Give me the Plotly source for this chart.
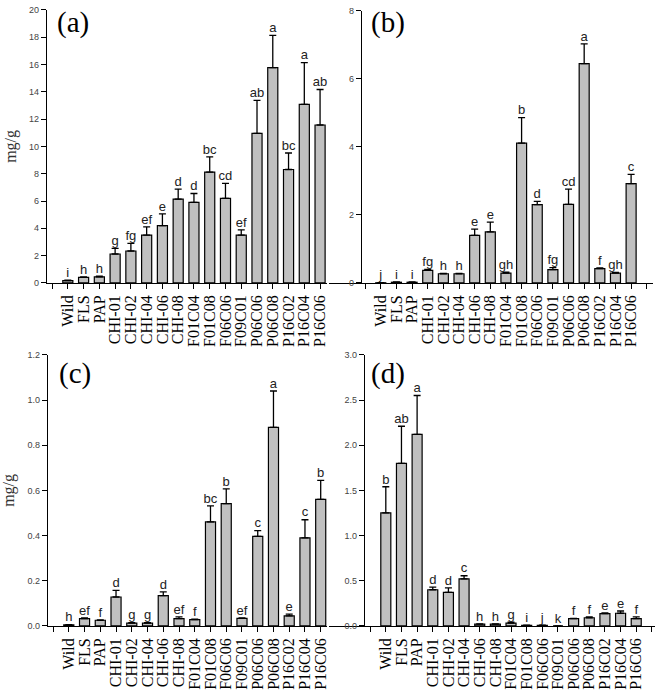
import plotly.graph_objects as go

lines = ['Wild', 'FLS', 'PAP', 'CHI-01', 'CHI-02', 'CHI-04', 'CHI-06', 'CHI-08',
         'F01C04', 'F01C08', 'F06C06', 'F09C01', 'P06C06', 'P06C08', 'P16C02', 'P16C04', 'P16C06']

# (a)
vals_a = [0.17, 0.40, 0.45, 2.12, 2.34, 3.50, 4.20, 6.14, 5.90, 8.12, 6.19, 3.50, 10.96, 15.78, 8.31, 13.08, 11.57]
err_a = [0.03, 0.05, 0.05, 0.41, 0.56, 0.60, 0.86, 0.73, 0.65, 1.11, 1.11, 0.38, 2.41, 2.36, 1.21, 3.06, 2.60]
let_a = ['i', 'h', 'h', 'g', 'fg', 'ef', 'e', 'd', 'd', 'bc', 'cd', 'ef', 'ab', 'a', 'bc', 'a', 'ab']

# (b)
vals_b = [0.005, 0.02, 0.02, 0.37, 0.27, 0.27, 1.40, 1.50, 0.29, 4.11, 2.30, 0.39, 2.31, 6.45, 0.42, 0.29, 2.92]
err_b = [0.0, 0.01, 0.01, 0.03, 0.01, 0.01, 0.18, 0.29, 0.03, 0.75, 0.10, 0.06, 0.45, 0.58, 0.02, 0.02, 0.27]
let_b = ['j', 'i', 'i', 'fg', 'h', 'h', 'e', 'e', 'gh', 'b', 'd', 'fg', 'cd', 'a', 'f', 'gh', 'c']

# (c)
vals_c = [0.005, 0.032, 0.025, 0.128, 0.012, 0.012, 0.134, 0.032, 0.028, 0.461, 0.541, 0.033, 0.396, 0.879, 0.044, 0.390, 0.560]
err_c = [0.001, 0.003, 0.002, 0.029, 0.002, 0.002, 0.017, 0.008, 0.002, 0.070, 0.066, 0.002, 0.026, 0.161, 0.008, 0.080, 0.084]
let_c = ['h', 'ef', 'f', 'd', 'g', 'g', 'd', 'ef', 'f', 'bc', 'b', 'ef', 'c', 'a', 'e', 'c', 'b']

# (d)
vals_d = [1.25, 1.80, 2.12, 0.40, 0.37, 0.52, 0.02, 0.02, 0.03, 0.005, 0.005, 0.0, 0.08, 0.09, 0.135, 0.14, 0.08]
err_d = [0.29, 0.41, 0.43, 0.03, 0.05, 0.035, 0.002, 0.002, 0.012, 0.002, 0.002, 0.0, 0.004, 0.01, 0.01, 0.025, 0.02]
let_d = ['b', 'ab', 'a', 'd', 'd', 'c', 'h', 'h', 'g', 'i', 'j', 'k', 'f', 'f', 'e', 'e', 'f']

W, H = 660, 692


def px(x):
    return x / W


def py(y):
    return (H - y) / H


panels = [
    dict(v=vals_a, e=err_a, l=let_a, xd=(47, 328), yd=(282, 5), xr=(-1.33, 16.44), yr=(0, 20), dt=2,
         fmt='', yax=None, label='(a)', lab_xy=(55, 18), ytitle=True),
    dict(v=vals_b, e=err_b, l=let_b, xd=(330, 655), yd=(282, 6), xr=(-3.31, 17.4), yr=(0, 8), dt=2,
         fmt='', yax=362, label='(b)', lab_xy=(370, 18), ytitle=False),
    dict(v=vals_c, e=err_c, l=let_c, xd=(48, 328), yd=(630, 355), xr=(-1.33, 16.4), yr=(0, 1.2), dt=0.2,
         fmt='.1f', yax=None, label='(c)', lab_xy=(57, 374), ytitle=True),
    dict(v=vals_d, e=err_d, l=let_d, xd=(330, 657), yd=(630, 355), xr=(-3.63, 17.2), yr=(0, 3.0), dt=0.5,
         fmt='.1f', yax=365, label='(d)', lab_xy=(370, 374), ytitle=False),
]

fig = go.Figure()
xs = list(range(len(lines)))
tickvals = list(range(-1, 18))
ticktext = [lines[t] if 0 <= t < len(lines) else '' for t in tickvals]

for i, p in enumerate(panels, start=1):
    sfx = '' if i == 1 else str(i)
    tops = [v + e for v, e in zip(p['v'], p['e'])]
    fig.add_trace(go.Bar(x=xs, y=p['v'], width=0.64,
                         marker=dict(color='#c0c0c0', line=dict(color='black', width=1.2)),
                         error_y=dict(type='data', symmetric=False, array=p['e'],
                                      arrayminus=[0] * len(p['e']),
                                      color='black', thickness=1.3, width=3.5),
                         xaxis='x' + sfx, yaxis='y' + sfx, showlegend=False, hoverinfo='skip'))
    fig.add_trace(go.Scatter(x=xs, y=tops, mode='text', text=p['l'], textposition='top center',
                             textfont=dict(family='Liberation Sans, Arial', size=13, color='#222'),
                             xaxis='x' + sfx, yaxis='y' + sfx, showlegend=False, hoverinfo='skip',
                             cliponaxis=False))

    xaxis = dict(domain=[px(p['xd'][0]), px(p['xd'][1])], range=list(p['xr']),
                 anchor='y' + sfx, showline=True, linecolor='black', linewidth=1,
                 ticks='outside', ticklen=5, tickcolor='black', tickwidth=1,
                 tickmode='array', tickvals=tickvals, ticktext=ticktext, tickangle=-90,
                 tickfont=dict(family='Liberation Serif, Times New Roman', size=16, color='black'),
                 showgrid=False, zeroline=False, fixedrange=True)
    yaxis = dict(domain=[py(p['yd'][0]), py(p['yd'][1])], range=list(p['yr']),
                 showline=True, linecolor='black', linewidth=1,
                 ticks='outside', ticklen=5, tickcolor='black', tickwidth=1,
                 dtick=p['dt'], tick0=0, tickformat=p['fmt'],
                 tickfont=dict(family='Liberation Sans, Arial', size=9, color='#444'),
                 showgrid=False, zeroline=False, fixedrange=True)
    if p['yax'] is None:
        yaxis['anchor'] = 'x' + sfx
    else:
        yaxis['anchor'] = 'free'
        yaxis['position'] = px(p['yax'])
    if p['ytitle']:
        yaxis['title'] = dict(text='mg/g', standoff=8,
                              font=dict(family='Liberation Serif, Times New Roman', size=16, color='#333'))
    fig.update_layout({'xaxis' + sfx: xaxis, 'yaxis' + sfx: yaxis})

    fig.add_annotation(x=px(p['lab_xy'][0]), y=py(p['lab_xy'][1]), xref='paper', yref='paper',
                       text=p['label'], showarrow=False, xanchor='left', yanchor='middle',
                       font=dict(family='Liberation Serif, Times New Roman', size=29, color='black'))

fig.update_layout(width=W, height=H, margin=dict(l=0, r=0, t=0, b=0),
                  paper_bgcolor='white', plot_bgcolor='white', bargap=0.36)

fig.write_html("out.html", config={'displayModeBar': False},
               post_script="document.body.style.margin='0';")
